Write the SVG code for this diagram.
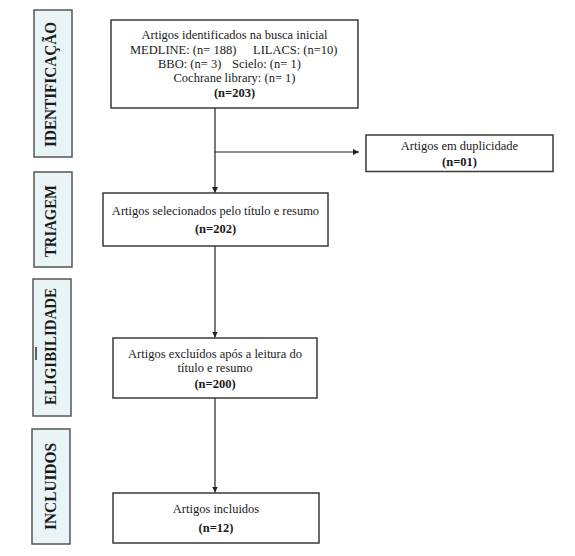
<svg xmlns="http://www.w3.org/2000/svg" width="575" height="556" viewBox="0 0 575 556">
<style>
.box{fill:#fff;stroke:#3a3a3a;stroke-width:1.5}
.side{fill:#e8f4f6;stroke:#555;stroke-width:1.5}
.t{font-family:"Liberation Serif","Times New Roman",serif;font-size:12.5px;fill:#1a1a1a;text-anchor:middle}
.b{font-weight:bold}
.s{font-family:"Liberation Serif","Times New Roman",serif;font-size:16px;font-weight:bold;fill:#1a1a1a;text-anchor:middle}
.c{stroke:#222;stroke-width:1.2;fill:none}
</style>
<defs>
<marker id="ar" viewBox="0 0 10 10" refX="10" refY="5" markerWidth="6" markerHeight="6" markerUnits="userSpaceOnUse" orient="auto">
<path d="M0,0 L10,5 L0,10 z" fill="#222"/>
</marker>
</defs>

<g id="lbl-identificacao">
<rect class="side" x="34" y="10" width="38" height="147"/>
<text class="s" transform="translate(56,84.5) rotate(-90)" textLength="125" lengthAdjust="spacingAndGlyphs">IDENTIFICAÇÃO</text>
</g>
<g id="lbl-triagem">
<rect class="side" x="34" y="172" width="38" height="95"/>
<text class="s" transform="translate(56,221) rotate(-90)" textLength="72" lengthAdjust="spacingAndGlyphs">TRIAGEM</text>
</g>
<g id="lbl-eligibilidade">
<rect class="side" x="33" y="279" width="38" height="137"/>
<line x1="36" y1="347" x2="36" y2="360" stroke="#333" stroke-width="1.5"/>
<text class="s" transform="translate(56,346.5) rotate(-90)" textLength="117" lengthAdjust="spacingAndGlyphs">ELIGIBILIDADE</text>
</g>
<g id="lbl-incluidos">
<rect class="side" x="32" y="429" width="38" height="115"/>
<text class="s" transform="translate(56,486.5) rotate(-90)" textLength="87" lengthAdjust="spacingAndGlyphs">INCLUIDOS</text>
</g>

<g id="connectors">
<line class="c" x1="215" y1="108" x2="215" y2="193" marker-end="url(#ar)"/>
<line class="c" x1="215" y1="152" x2="359" y2="152" marker-end="url(#ar)"/>
<line class="c" x1="215" y1="246" x2="215" y2="337.5" marker-end="url(#ar)"/>
<line class="c" x1="215" y1="398" x2="215" y2="492.5" marker-end="url(#ar)"/>
</g>

<g id="node-busca">
<rect class="box" x="111" y="20" width="247" height="88"/>
<text class="t" x="234.5" y="39">Artigos identificados na busca inicial</text>
<text class="t" x="130" y="53.5" style="text-anchor:start">MEDLINE: (n= 188)</text>
<text class="t" x="253" y="53.5" style="text-anchor:start">LILACS: (n=10)</text>
<text class="t" x="158" y="67.5" style="text-anchor:start">BBO: (n= 3)</text>
<text class="t" x="232" y="67.5" style="text-anchor:start">Scielo: (n= 1)</text>
<text class="t" x="234.5" y="82">Cochrane library: (n= 1)</text>
<text class="t b" x="234.5" y="96.5">(n=203)</text>
</g>

<g id="node-duplicidade">
<rect class="box" x="366" y="135" width="187" height="36.5"/>
<text class="t" x="459.5" y="149.5">Artigos em duplicidade</text>
<text class="t b" x="459.5" y="166">(n=01)</text>
</g>

<g id="node-selecionados">
<rect class="box" x="103" y="193" width="225" height="53"/>
<text class="t" x="215.5" y="215">Artigos selecionados pelo título e resumo</text>
<text class="t b" x="215.5" y="232.5">(n=202)</text>
</g>

<g id="node-excluidos">
<rect class="box" x="113" y="338" width="204" height="60"/>
<text class="t" x="215" y="357.5">Artigos excluídos após a leitura do</text>
<text class="t" x="215" y="371.5">título e resumo</text>
<text class="t b" x="215" y="387.5">(n=200)</text>
</g>

<g id="node-incluidos">
<rect class="box" x="113" y="493" width="206" height="50"/>
<text class="t" x="216" y="512.5">Artigos incluidos</text>
<text class="t b" x="216" y="531.5">(n=12)</text>
</g>
</svg>
